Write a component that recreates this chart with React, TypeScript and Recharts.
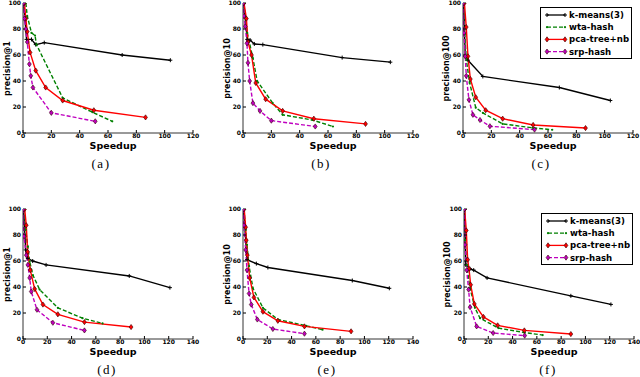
import { LineChart, Line, XAxis, YAxis } from 'recharts'

type Pt = [number, number]

const seriesNames = ['k-means(3)', 'wta-hash', 'pca-tree+nb', 'srp-hash']
const xTicks120 = [0, 20, 40, 60, 80, 100, 120]
const xTicks140 = [0, 20, 40, 60, 80, 100, 120, 140]
const yTicks = [0, 20, 40, 60, 80, 100]

// (a) precision@1, dataset 1
const kmeansA: Pt[] = [[0.5, 100], [2.5, 72], [6, 72], [9, 68], [15, 69.5], [70, 60], [104, 56]]
const wtaA: Pt[] = [[2, 100], [3, 90], [6, 77], [8.5, 75], [9.5, 68], [28, 27], [49, 16], [63, 9]]
const pcaA: Pt[] = [[1, 100], [2, 88], [3, 78], [5, 62], [9, 48], [16, 35], [28, 25], [50, 17.5], [86.5, 12]]
const srpA: Pt[] = [[0.5, 100], [1, 88], [2, 80], [3, 70], [4.5, 53], [5.5, 44], [7, 35], [20, 15.5], [51, 9]]

// (b) precision@10
const kmeansB: Pt[] = [[0.5, 100], [3, 72], [5, 71.5], [8, 68.5], [14, 68], [70, 58], [104, 54.5]]
const wtaB: Pt[] = [[0.5, 100], [1.5, 90], [3, 77], [7, 57.5], [10, 40], [21, 23], [28, 14], [49, 10], [63.5, 5]]
const pcaB: Pt[] = [[0.7, 100], [2.4, 88], [3.5, 70], [6, 60], [9, 38.5], [16, 26], [28, 17], [50, 11], [86.5, 7]]
const srpB: Pt[] = [[0.2, 100], [0.7, 90], [1.6, 82], [2.8, 69], [3.5, 54], [4.7, 40], [7, 23], [12, 17], [20, 9.5], [51, 5]]

// (c) precision@100
const kmeansC: Pt[] = [[0.5, 100], [1.6, 59], [3.5, 56], [14, 43.5], [68, 35], [104, 25]]
const wtaC: Pt[] = [[0.7, 100], [1.2, 76], [2.4, 56], [4.7, 38.5], [9, 19.5], [14, 15.5], [28, 7], [49, 4], [63, 2.5]]
const pcaC: Pt[] = [[1, 100], [2.3, 81.5], [3.5, 59], [5.2, 41.5], [9, 27.5], [16, 17.5], [28, 11], [49.5, 6.2], [86.5, 3.8]]
const srpC: Pt[] = [[0.2, 100], [0.7, 77], [1.6, 59], [2.3, 44], [4.2, 25.5], [7, 14], [12, 10], [19, 5.2], [50.5, 2.6]]

// (d) precision@1, dataset 2
const kmeansD: Pt[] = [[0.5, 100], [2.2, 68.5], [4, 62], [8, 60], [19, 57], [87.5, 48.5], [121, 39.5]]
const wtaD: Pt[] = [[0.5, 100], [2.2, 84], [4, 71], [5.5, 59.5], [8.2, 49], [13.7, 38], [28.7, 24], [49, 16], [65.5, 12]]
const pcaD: Pt[] = [[1.4, 100], [2.7, 87.5], [3.8, 67], [6, 53], [9.6, 38.5], [16.4, 26.5], [28.7, 19], [50.6, 13], [89, 9.2]]
const srpD: Pt[] = [[0.3, 100], [0.8, 79], [2.7, 64.5], [4, 57], [5.5, 47], [6.8, 36.5], [11.5, 22.5], [24.6, 12.5], [50.6, 6.6]]

// (e) precision@10
const kmeansE: Pt[] = [[0.5, 100], [3.3, 61], [11, 58], [20.5, 55], [90, 45], [120.5, 39]]
const wtaE: Pt[] = [[0.8, 100], [2.2, 84], [3.3, 72.5], [5, 56], [8.2, 39], [16.4, 24], [28.7, 15], [52, 10.2], [65.5, 7.2]]
const pcaE: Pt[] = [[1, 100], [2.2, 86], [2.7, 76], [3.6, 64.5], [5.5, 47], [9, 32], [16.4, 21], [28.7, 14], [50.6, 9.7], [89, 5.9]]
const srpE: Pt[] = [[0.3, 100], [0.8, 87.5], [2.2, 68.5], [3.3, 53], [5, 35], [6.8, 26.5], [11.8, 15], [24.6, 7.7], [50.6, 4.1]]

// (f) precision@100
const kmeansF: Pt[] = [[0.5, 100], [1.5, 57], [5, 54], [8, 53], [19, 47], [88, 33.2], [121, 26.6]]
const wtaF: Pt[] = [[0.3, 100], [0.8, 76], [2.2, 57], [5, 39], [9, 24], [13.2, 16], [28.3, 8.4], [49, 5.1], [64.8, 3]]
const pcaF: Pt[] = [[0.5, 100], [1.9, 83.5], [3, 61], [4.1, 54], [5.5, 41.7], [8.5, 27], [16, 17], [27.7, 10.5], [49.7, 6.6], [88, 3.8]]
const srpF: Pt[] = [[0.3, 100], [0.8, 72.5], [2.2, 53], [3.8, 38], [5, 24.5], [10.4, 9.7], [24, 4.6], [50, 2.6]]

const seriesStyle = [
  { color: '#000000', dash: undefined, marker: 'plus' },
  { color: '#008000', dash: '4 2', marker: 'dot' },
  { color: '#ff0000', dash: undefined, marker: 'diamond' },
  { color: '#bf00bf', dash: '4 2', marker: 'diamond' },
]

const panels = [
  { caption: '(a)', ylabel: 'precision@1', left: 23, top: 3, xMax: 120, xTicks: xTicks120, lines: [kmeansA, wtaA, pcaA, srpA] },
  { caption: '(b)', ylabel: 'precision@10', left: 243, top: 3, xMax: 120, xTicks: xTicks120, lines: [kmeansB, wtaB, pcaB, srpB] },
  { caption: '(c)', ylabel: 'precision@100', left: 463, top: 3, xMax: 120, xTicks: xTicks120, lines: [kmeansC, wtaC, pcaC, srpC], legend: true },
  { caption: '(d)', ylabel: 'precision@1', left: 23, top: 209, xMax: 140, xTicks: xTicks140, lines: [kmeansD, wtaD, pcaD, srpD] },
  { caption: '(e)', ylabel: 'precision@10', left: 243, top: 209, xMax: 140, xTicks: xTicks140, lines: [kmeansE, wtaE, pcaE, srpE] },
  { caption: '(f)', ylabel: 'precision@100', left: 464, top: 209, xMax: 140, xTicks: xTicks140, lines: [kmeansF, wtaF, pcaF, srpF], legend: true },
]

const PW = 170
const PH = 130
const sans = '"DejaVu Sans", sans-serif'
const tickStyle = { fontSize: 6, fontWeight: 'bold', fill: '#000', fontFamily: sans }

const Marker = ({ kind, color, cx, cy }: { kind: string; color: string; cx: number; cy: number }) => {
  if (kind === 'plus') return <path d={`M${cx - 2},${cy}h4M${cx},${cy - 2}v4`} stroke={color} strokeWidth={1} />
  if (kind === 'dot') return <circle cx={cx} cy={cy} r={1.1} fill={color} />
  return (
    <path
      d={`M${cx},${cy - 2.6}L${cx + 1.9},${cy}L${cx},${cy + 2.6}L${cx - 1.9},${cy}Z`}
      fill={color}
      stroke="#330000"
      strokeWidth={0.6}
    />
  )
}

const makeDot = (kind: string, color: string) => (props: any) => {
  const { cx, cy, index } = props
  if (cx == null || cy == null) return <g key={index} />
  return (
    <g key={index}>
      <Marker kind={kind} color={color} cx={cx} cy={cy} />
    </g>
  )
}

const Legend = ({ left, top }: { left: number; top: number }) => (
  <div
    style={{
      position: 'absolute', left, top, width: 92, height: 52, boxSizing: 'border-box',
      border: '1px solid #000', background: '#fff',
    }}
  >
    <svg width={92} height={52} style={{ position: 'absolute', left: -1, top: -1 }}>
      {seriesNames.map((name, i) => {
        const s = seriesStyle[i]
        const y = 8 + i * 12.2
        return (
          <g key={name}>
            <line x1={7} x2={25} y1={y} y2={y} stroke={s.color} strokeWidth={1.3} strokeDasharray={s.dash} />
            <Marker kind={s.marker} color={s.color} cx={7} cy={y} />
            <Marker kind={s.marker} color={s.color} cx={25} cy={y} />
            <text x={29} y={y + 3} fontSize={8.6} fontWeight="bold" fontFamily={sans} fill="#000">{name}</text>
          </g>
        )
      })}
    </svg>
  </div>
)

const Panel = ({ p }: { p: (typeof panels)[number] }) => {
  const bottomRow = p.top > 100
  const cx = p.left + PW / 2
  return (
    <>
      <div style={{ position: 'absolute', left: p.left - 23, top: p.top - 3 }}>
        <LineChart width={215} height={152} margin={{ top: 3, right: 22, bottom: 7, left: 0 }}>
          <XAxis
            type="number" dataKey="x" domain={[0, p.xMax]} ticks={p.xTicks} allowDataOverflow
            height={12} tickSize={-3} tickMargin={4} tick={tickStyle} interval={0}
            axisLine={{ stroke: '#000', strokeWidth: 0.8 }} tickLine={{ stroke: '#000' }}
          />
          <XAxis
            xAxisId="top" orientation="top" type="number" domain={[0, p.xMax]} ticks={p.xTicks} allowDataOverflow
            height={0} tickSize={-3} tick={false} axisLine={{ stroke: '#000', strokeWidth: 0.8 }} tickLine={{ stroke: '#000' }}
          />
          <YAxis
            type="number" domain={[0, 100]} ticks={yTicks} width={23} allowDataOverflow
            tickSize={-3} tickMargin={5} tick={tickStyle} interval={0}
            axisLine={{ stroke: '#000', strokeWidth: 0.8 }} tickLine={{ stroke: '#000' }}
          />
          <YAxis
            yAxisId="right" orientation="right" type="number" domain={[0, 100]} ticks={yTicks} width={0}
            tickSize={-3} tick={false} axisLine={{ stroke: '#000', strokeWidth: 0.8 }} tickLine={{ stroke: '#000' }}
          />
          {p.lines.map((pts, i) => {
            const s = seriesStyle[i]
            return (
              <Line
                key={seriesNames[i]}
                name={seriesNames[i]}
                data={pts.map(([x, y]) => ({ x, y }))}
                dataKey="y"
                type="linear"
                stroke={s.color}
                strokeWidth={1.4}
                strokeDasharray={s.dash}
                dot={makeDot(s.marker, s.color)}
                activeDot={false}
                isAnimationActive={false}
              />
            )
          })}
        </LineChart>
      </div>
      <div
        style={{
          position: 'absolute', left: p.left - 22, top: p.top + PH / 2 - 50, width: 12, height: 100,
          display: 'flex', alignItems: 'center', justifyContent: 'center',
        }}
      >
        <div style={{ transform: 'rotate(-90deg)', whiteSpace: 'nowrap', fontFamily: sans, fontWeight: 'bold', fontSize: 8 }}>
          {p.ylabel}
        </div>
      </div>
      <div
        style={{
          position: 'absolute', left: cx + 5 - 50, top: p.top + PH + 7, width: 100, textAlign: 'center',
          fontFamily: sans, fontWeight: 'bold', fontSize: 9.5, lineHeight: '12px',
        }}
      >
        Speedup
      </div>
      <div
        style={{
          position: 'absolute', left: cx + (bottomRow ? -1 : -7) - 50, top: p.top + PH + 23, width: 100, textAlign: 'center',
          fontFamily: '"Liberation Serif", serif', fontSize: 13, lineHeight: '16px', letterSpacing: 1.5,
        }}
      >
        {p.caption}
      </div>
      {p.legend && <Legend left={p.left + 77} top={p.top + 4} />}
    </>
  )
}

export default function App() {
  return (
    <div style={{ position: 'absolute', left: 0, top: 0, width: 640, height: 377, background: '#fff', overflow: 'hidden' }}>
      {panels.map((p) => (
        <Panel key={p.caption} p={p} />
      ))}
    </div>
  )
}
